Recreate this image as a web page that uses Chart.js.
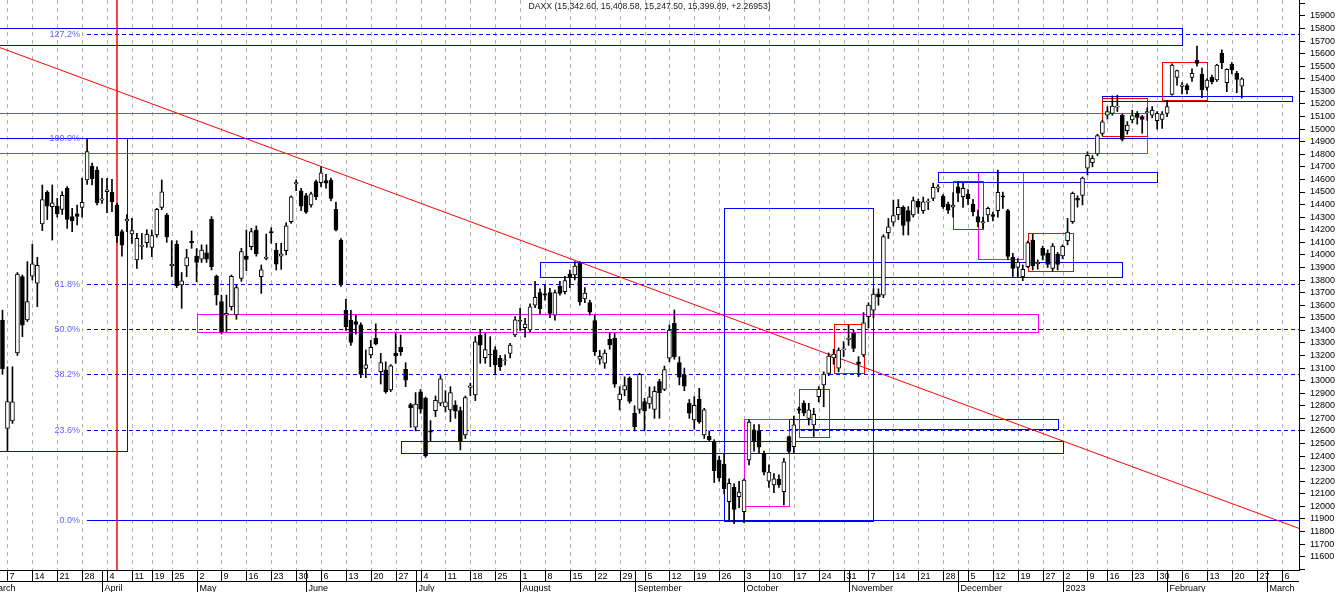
<!DOCTYPE html>
<html>
<head>
<meta charset="utf-8">
<title>DAXX</title>
<script src="https://cdn.jsdelivr.net/npm/chart.js@4.4.1/dist/chart.umd.min.js"></script>
<style>
    html, body { margin: 0; padding: 0; background: #fff; }
    #wrap { position: relative; width: 1336px; height: 592px; }
</style>
</head>
<body>
<div id="wrap"><canvas id="daxChart"></canvas></div>
<script>
// trading calendar of the x axis (one slot per session, future sessions left empty)
const firstDay = '2022-03-04';
const slotCount = 261;
const closedDays = ['2022-04-15', '2022-04-18', '2022-12-26', '2023-01-13'];
const monthNames = ['January', 'February', 'March', 'April', 'May', 'June', 'July',
    'August', 'September', 'October', 'November', 'December'];

// daily candles, one line per week
const opens = [13480,
    12620, 12680, 13220, 13827, 13482,
    13830, 13775, 14246, 14500, 14383,
    14389, 14362, 14529, 14304, 14326,
    14378, 14596, 14707, 14675, 14436,
    14503, 14498, 14397, 14185, 14270,
    14166, 13960, 14068, 14097,
    14060, 14158, 14378, 14317,
    13915, 14084, 13761, 13912, 14108,
    13991, 13965, 14017, 14283, 13832,
    13628, 13520, 13589, 13522, 13813,
    13991, 14065, 14198, 13827, 13972,
    14186, 14039, 13990, 14033, 14264,
    14565, 14510, 14471, 14397, 14582,
    14574, 14590, 14595, 14362, 14118,
    13560, 13480, 13470, 13443, 13098,
    13204, 13337, 13072, 13085, 12926,
    13217, 13265, 13090, 12810, 12629,
    12910, 12860, 12600, 12761, 12820,
    12790, 12767, 12806, 12761, 12568,
    12945, 12886, 13363, 13183, 13210,
    13244, 13178, 13160, 13217, 13363,
    13470, 13421, 13403, 13600, 13700,
    13690, 13700, 13520, 13750, 13707,
    13850, 13840, 13932, 13650, 13620,
    13477, 13170, 13138, 13329, 13337,
    12846, 12926, 13019, 12740, 12772,
    12833, 12814, 12772, 12992, 12931,
    13178, 13456, 13143, 13045, 12820,
    12687, 12851, 12568, 12560, 12515,
    12369, 12337, 12038, 12152, 12077,
    11958, 12369, 12608, 12602, 12422,
    12200, 12170, 12215, 12117, 12555,
    12475, 12775, 12820, 12700, 12647,
    12873, 12966, 13058, 13180, 13100,
    13245, 13328, 13376, 13150, 13204,
    13509, 13560, 13690, 13680, 14177,
    14260, 14320, 14378, 14352, 14317,
    14425, 14352, 14420, 14450, 14530,
    14468, 14405, 14380, 14542, 14463,
    14484, 14405, 14304, 14255, 14317,
    14320, 14352, 14470, 14352, 13980,
    13900, 13827, 13906, 14118, 13930,
    14052, 14012, 13893, 14004,
    13991, 14113, 14264, 14450, 14473,
    14690, 14733, 14802, 14966,
    15112, 15126, 15175, 15112, 14988,
    15073, 15126, 15099, 15130, 15112,
    15067, 15078, 15126, 15277, 15412,
    15340, 15346, 15412, 15550, 15438,
    15332, 15412, 15391, 15603, 15370,
    15515, 15444, 15342.60];

const highs = [13560,
    13110, 13110, 13860, 13840, 13946,
    14084, 13981, 14556, 14510, 14556,
    14450, 14503, 14543, 14370, 14397,
    14610, 14925, 14730, 14700, 14609,
    14609, 14600, 14410, 14200, 14320,
    14291, 14171, 14171, 14200,
    14198, 14370, 14596, 14330,
    14113, 14113, 13860, 14044, 14190,
    14050, 14080, 14080, 14304, 13840,
    13680, 13680, 13840, 13760, 14052,
    14198, 14211, 14230, 13920, 14166,
    14216, 14092, 14092, 14256, 14470,
    14595, 14530, 14490, 14500, 14595,
    14701, 14640, 14610, 14420, 14130,
    13647, 13560, 13520, 13460, 13244,
    13320, 13451, 13217, 13150, 13128,
    13376, 13363, 13143, 12820, 12905,
    12930, 12870, 12682, 12878, 13040,
    12920, 12952, 12840, 12790, 12878,
    12980, 13350, 13403, 13376, 13350,
    13270, 13200, 13205, 13297, 13509,
    13575, 13496, 13610, 13790, 13730,
    13760, 13735, 13720, 13790, 13830,
    13880, 13946, 13946, 13740, 13640,
    13520, 13240, 13244, 13380, 13376,
    12952, 13030, 13030, 12800, 13058,
    12860, 12950, 12952, 13010, 13116,
    13443, 13562, 13190, 13100, 12850,
    12873, 12939, 12780, 12600, 12530,
    12400, 12420, 12220, 12180, 12200,
    12220, 12690, 12650, 12650, 12440,
    12330, 12260, 12250, 12382, 12560,
    12719, 12790, 12840, 12820, 12780,
    12952, 13070, 13220, 13250, 13260,
    13310, 13440, 13400, 13191, 13541,
    13620, 13730, 13730, 14160, 14290,
    14436, 14440, 14390, 14384, 14460,
    14445, 14460, 14445, 14570, 14560,
    14480, 14420, 14495, 14582, 14574,
    14520, 14442, 14357, 14300, 14380,
    14340, 14675, 14500, 14362, 14012,
    13970, 13920, 14110, 14163, 13960,
    14070, 14040, 14090, 14020,
    14080, 14290, 14500, 14470, 14620,
    14820, 14790, 14960, 15070,
    15179, 15264, 15270, 15120, 15060,
    15150, 15140, 15110, 15170, 15180,
    15140, 15140, 15230, 15520, 15470,
    15370, 15360, 15480, 15661, 15485,
    15400, 15430, 15515, 15630, 15480,
    15530, 15460, 15408.58];

const lows = [13050,
    12440, 12660, 13200, 13350, 13470,
    13800, 13588, 14193, 14280, 14118,
    14300, 14322, 14211, 14185, 14238,
    14300, 14560, 14556, 14397, 14410,
    14336, 14344, 14100, 13990, 14185,
    14092, 13893, 13965, 14060,
    13986, 14140, 14360, 14100,
    13827, 13740, 13575, 13827, 14052,
    13787, 13940, 13940, 13880, 13601,
    13370, 13390, 13560, 13488, 13790,
    13874, 14040, 13990, 13694, 13960,
    14092, 13880, 13885, 14000, 14250,
    14510, 14352, 14330, 14380, 14440,
    14542, 14530, 14430, 14190, 13750,
    13400, 13280, 13370, 13024, 13024,
    13180, 13284, 12973, 12900, 12912,
    13138, 13200, 12952, 12629, 12600,
    12740, 12390, 12523, 12714, 12800,
    12750, 12674, 12700, 12449, 12540,
    12880, 12841, 13138, 13138, 13111,
    13045, 13080, 13125, 13180, 13350,
    13400, 13345, 13390, 13580, 13530,
    13640, 13500, 13480, 13680, 13690,
    13740, 13800, 13600, 13620, 13520,
    13200, 13130, 13098, 13250, 12947,
    12767, 12880, 12820, 12600, 12740,
    12600, 12780, 12700, 12700, 12920,
    13150, 13170, 12966, 12920, 12700,
    12613, 12660, 12540, 12520, 12190,
    12200, 12100, 11890, 11862, 11990,
    11870, 12330, 12440, 12427, 12250,
    12150, 12109, 12150, 12011, 12420,
    12422, 12740, 12720, 12647, 12555,
    12830, 12793, 13040, 13130, 13070,
    13190, 13280, 13230, 13032, 13190,
    13420, 13500, 13600, 13660, 14130,
    14230, 14280, 14158, 14158, 14300,
    14330, 14330, 14360, 14430, 14500,
    14370, 14330, 14300, 14423, 14378,
    14400, 14310, 14224, 14210, 14265,
    14270, 14300, 14370, 13960, 13827,
    13820, 13795, 13900, 13880, 13887,
    13960, 13900, 13870, 13880,
    13970, 14080, 14250, 14380, 14397,
    14635, 14700, 14790, 14950,
    15080, 15110, 15140, 14906, 14960,
    15050, 15040, 14967, 15070, 15090,
    15000, 15006, 15100, 15270, 15350,
    15280, 15280, 15380, 15500, 15250,
    15310, 15360, 15380, 15480, 15298,
    15440, 15290, 15247.50];

const closes = [13094,
    12834, 12831, 13848, 13442, 13628,
    13929, 13917, 14440, 14388, 14413,
    14326, 14473, 14283, 14273, 14306,
    14417, 14821, 14606, 14415, 14446,
    14518, 14424, 14152, 14078, 14284,
    14193, 14132, 14076, 14163,
    14153, 14362, 14502, 14142,
    13924, 13756, 13793, 13979, 14098,
    13940, 14039, 13965, 13906, 13681,
    13390, 13535, 13829, 13739, 14027,
    13964, 14186, 14008, 13882, 13982,
    14175, 13927, 14008, 14232, 14462,
    14575, 14388, 14340, 14485, 14460,
    14653, 14570, 14450, 14199, 13762,
    13427, 13304, 13447, 13050, 13126,
    13265, 13292, 13143, 12912, 13118,
    13196, 13231, 13003, 12784, 12813,
    12773, 12401, 12590, 12843, 13015,
    12832, 12905, 12757, 12519, 12865,
    12959, 13308, 13282, 13247, 13204,
    13125, 13111, 13166, 13282, 13484,
    13479, 13449, 13587, 13662, 13573,
    13680, 13535, 13700, 13694, 13795,
    13816, 13910, 13626, 13697, 13544,
    13230, 13194, 13220, 13284, 12971,
    12893, 12961, 12834, 12631, 13050,
    12761, 12871, 12915, 12904, 13088,
    13402, 13189, 13028, 12956, 12741,
    12803, 12671, 12767, 12531, 12284,
    12227, 12140, 12184, 11975, 12114,
    12209, 12671, 12517, 12471, 12273,
    12272, 12220, 12172, 12355, 12438,
    12649, 12765, 12741, 12767, 12731,
    12931, 13053, 13195, 13211, 13243,
    13253, 13338, 13257, 13130, 13460,
    13600, 13688, 13666, 14146, 14224,
    14313, 14378, 14234, 14266, 14431,
    14380, 14422, 14428, 14537, 14541,
    14383, 14355, 14397, 14490, 14529,
    14447, 14343, 14261, 14264, 14370,
    14306, 14497, 14460, 13987, 13893,
    13942, 13885, 14097, 13914, 13941,
    13995, 13925, 14071, 13924,
    14069, 14181, 14490, 14436, 14610,
    14792, 14768, 14948, 15058,
    15139, 15184, 15184, 14919, 15033,
    15107, 15094, 15078, 15139, 15152,
    15126, 15120, 15179, 15510, 15465,
    15351, 15311, 15444, 15523, 15311,
    15391, 15378, 15510, 15529, 15476,
    15470, 15396, 15399.89];

// drawn analysis: fibonacci retracement, trend line, marker, zones [from, to, low, high]
const fibLow = 11890;
const fibHigh = 14930;
const fibStart = '2022-03-29';
const fibLevels = [1.272, 1.0, 0.618, 0.5, 0.382, 0.236, 0.0];
const trendPoints = [['2022-03-04', 15641], ['2023-03-09', 11832]];
const markerDay = '2022-04-06';
const blueBoxes = [
    [null, '2023-02-06', 15669, 15802],
    ['2023-01-12', '2023-03-08', 15222, 15266],
    ['2022-11-25', '2023-01-30', 14577, 14657],
    ['2022-08-05', '2023-01-19', 13822, 13941],
    ['2022-09-27', '2022-11-08', 11886, 14371],
    ['2022-06-28', '2023-01-02', 12422, 12518],
    ['2022-10-14', '2022-12-30', 12613, 12695],
    [null, '2022-04-08', 12440, 14930],
];
const redBoxes = [
    ['2023-01-31', '2023-02-13', 15230, 15532],
    ['2023-01-12', '2023-01-26', 14943, 15245],
    ['2022-11-30', '2022-12-08', 14203, 14585],
    ['2022-12-21', '2023-01-04', 13870, 14172],
    ['2022-10-18', '2022-10-26', 12550, 12934],
    ['2022-10-27', '2022-11-04', 13063, 13448],
];
const magentaBoxes = [
    [null, '2023-01-26', 14808, 15126],
    ['2022-12-07', '2022-12-20', 13967, 14657],
    ['2022-05-02', '2022-12-23', 13385, 13528],
    ['2022-10-03', '2022-10-14', 12001, 12693],
];
const titleText = 'DAXX (15,342.60, 15,408.58, 15,247.50, 15,399.89, +2.26953)';

//
const FONT = "'Liberation Sans', Arial, sans-serif";
const iso = (d) => d.toISOString().slice(0, 10);
const dates = [];
const cursor = new Date(firstDay + 'T00:00:00Z');
while (dates.length < slotCount) {
    const dow = cursor.getUTCDay();
    if (dow !== 0 && dow !== 6 && !closedDays.includes(iso(cursor))) dates.push(iso(cursor));
    cursor.setUTCDate(cursor.getUTCDate() + 1);
}
const asDate = (s) => new Date(s + 'T00:00:00Z');
const isWeekStart = (i) => i > 0 && asDate(dates[i]).getUTCDay() <= asDate(dates[i - 1]).getUTCDay();
const isMonthStart = (i) => i > 0 && dates[i].slice(5, 7) !== dates[i - 1].slice(5, 7);
const monthLabel = (s) => {
    const d = asDate(s);
    return d.getUTCMonth() === 0 ? String(d.getUTCFullYear()) : monthNames[d.getUTCMonth()];
};
// sessions between the 1st of the first month and the first slot
const leadSessions = (() => {
    let n = 0;
    const d = asDate(firstDay.slice(0, 8) + '01');
    while (iso(d) < firstDay) {
        if (d.getUTCDay() !== 0 && d.getUTCDay() !== 6) n++;
        d.setUTCDate(d.getUTCDate() + 1);
    }
    return n;
})();

const crisp = (v) => Math.round(v) + 0.5;
const xOf = (scale, day) => scale.getPixelForValue(dates.indexOf(day));

//
const overlayPlugin = {
    id: 'overlay',
    beforeDatasetsDraw(chart) {
        const { ctx, chartArea: { left, right, top, bottom }, scales: { x, y } } = chart;
        ctx.save();
        ctx.beginPath();
        ctx.rect(left, top, right - left, bottom - top);
        ctx.clip();
        ctx.lineWidth = 1;

        // weekly dashed grid
        ctx.strokeStyle = '#b4b4b4';
        ctx.setLineDash([4, 4]);
        ctx.beginPath();
        dates.forEach((d, i) => {
            if (!isWeekStart(i)) return;
            const px = crisp(x.getPixelForValue(i));
            ctx.moveTo(px, top);
            ctx.lineTo(px, bottom);
        });
        ctx.stroke();
        ctx.setLineDash([]);

        // zones
        const drawBoxes = (list, color) => {
            ctx.strokeStyle = color;
            list.forEach(([from, to, lo, hi]) => {
                const x0 = from ? crisp(xOf(x, from)) : left - 2.5;
                const x1 = crisp(xOf(x, to));
                const y0 = crisp(y.getPixelForValue(hi));
                const y1 = crisp(y.getPixelForValue(lo));
                ctx.strokeRect(x0, y0, x1 - x0, y1 - y0);
            });
        };
        drawBoxes(magentaBoxes, '#ff00ff');
        drawBoxes(blueBoxes, '#0000ff');
        drawBoxes(redBoxes, '#ff0000');

        // fibonacci levels
        const fx = xOf(x, fibStart);
        ctx.font = `9px ${FONT}`;
        ctx.textAlign = 'right';
        ctx.textBaseline = 'middle';
        fibLevels.forEach((lvl) => {
            const py = crisp(y.getPixelForValue(fibLow + lvl * (fibHigh - fibLow)));
            const solid = lvl === 0 || lvl === 1;
            ctx.strokeStyle = '#0000ff';
            ctx.setLineDash(solid ? [] : [4, 3]);
            ctx.beginPath();
            ctx.moveTo(lvl === 1 ? left : Math.round(fx), py);
            ctx.lineTo(right, py);
            ctx.stroke();
            ctx.fillStyle = '#6464ff';
            ctx.fillText((lvl * 100).toFixed(1) + '%', fx - 7, py);
        });
        ctx.setLineDash([]);

        // trend line, extended to both edges
        const [[d0, v0], [d1, v1]] = trendPoints;
        const xa = xOf(x, d0), xb = xOf(x, d1);
        const ya = y.getPixelForValue(v0), yb = y.getPixelForValue(v1);
        const k = (yb - ya) / (xb - xa);
        ctx.strokeStyle = '#ff0000';
        ctx.beginPath();
        ctx.moveTo(left, ya + (left - xa) * k);
        ctx.lineTo(right, ya + (right - xa) * k);
        ctx.stroke();

        // vertical marker
        const mx = Math.round(xOf(x, markerDay));
        ctx.lineWidth = 1.5;
        ctx.beginPath();
        ctx.moveTo(mx, top);
        ctx.lineTo(mx, bottom);
        ctx.stroke();
        ctx.restore();
    },
    afterDraw(chart) {
        const { ctx, width, height, chartArea: { left, right, top, bottom }, scales: { x } } = chart;
        ctx.save();

        // title
        ctx.font = `8.7px ${FONT}`;
        ctx.fillStyle = '#1c1c1c';
        ctx.textAlign = 'center';
        ctx.textBaseline = 'middle';
        ctx.fillText(titleText, (left + right) / 2, top + 7);

        // two-row date axis
        ctx.beginPath();
        ctx.rect(0, bottom, right + 1, height - bottom);
        ctx.clip();
        const rowLine = bottom + 11.5;
        ctx.strokeStyle = '#000';
        ctx.lineWidth = 1;
        ctx.beginPath();
        ctx.moveTo(0, crisp(bottom));
        ctx.lineTo(right, crisp(bottom));
        ctx.moveTo(0, rowLine);
        ctx.lineTo(right, rowLine);
        ctx.stroke();

        ctx.font = `9px ${FONT}`;
        ctx.fillStyle = '#000';
        ctx.textAlign = 'left';
        ctx.textBaseline = 'alphabetic';
        dates.forEach((d, i) => {
            const week = isWeekStart(i), month = isMonthStart(i);
            if (!week && !month) return;
            const px = crisp(x.getPixelForValue(i));
            ctx.beginPath();
            ctx.moveTo(px, bottom);
            ctx.lineTo(px, rowLine);
            if (month) {
                ctx.moveTo(px, rowLine);
                ctx.lineTo(px, height);
            }
            ctx.stroke();
            if (week) ctx.fillText(String(+d.slice(8, 10)), px + 2, bottom + 9);
            if (month) ctx.fillText(monthLabel(d), px + 2, height - 1);
        });
        // month that began before the first slot
        const mx = crisp(x.getPixelForValue(-leadSessions));
        ctx.beginPath();
        ctx.moveTo(mx, rowLine);
        ctx.lineTo(mx, height);
        ctx.stroke();
        ctx.fillText(monthLabel(firstDay), mx + 2, height - 1);
        ctx.restore();
    },
};

//
Chart.defaults.font.family = FONT;
Chart.defaults.font.size = 9;
Chart.defaults.color = '#000';

const bodies = dates.map((d, i) => (i < opens.length ? [Math.min(opens[i], closes[i]), Math.max(opens[i], closes[i])] : null));
const wicks = dates.map((d, i) => (i < opens.length ? [lows[i], highs[i]] : null));
const bodyColors = dates.map((d, i) => (i < opens.length && closes[i] >= opens[i] ? '#ffffff' : '#000000'));

new Chart(document.getElementById('daxChart'), {
    type: 'bar',
    data: {
        labels: dates,
        datasets: [
            {
                label: 'body',
                data: bodies,
                backgroundColor: bodyColors,
                borderColor: '#000000',
                borderWidth: 1,
                borderSkipped: false,
                barThickness: 4,
                grouped: false,
                order: 0,
            },
            {
                label: 'wick',
                data: wicks,
                backgroundColor: '#000000',
                borderWidth: 0,
                barThickness: 1,
                grouped: false,
                order: 1,
            },
        ],
    },
    options: {
        responsive: true,
        maintainAspectRatio: false,
        animation: false,
        events: [],
        layout: { padding: { left: 0, right: 0, top: 0, bottom: 22 } },
        plugins: {
            legend: { display: false },
            tooltip: { enabled: false },
        },
        scales: {
            x: { display: false, offset: true },
            y: {
                position: 'right',
                min: 11494,
                max: 16027,
                afterFit(scale) {
                    scale.width = 37;
                    scale.paddingTop = 0;
                    scale.paddingBottom = 0;
                },
                ticks: {
                    stepSize: 100,
                    includeBounds: false,
                    autoSkip: false,
                    maxTicksLimit: 100,
                    padding: 5,
                    color: '#000',
                    font: { size: 9 },
                    callback: (v) => (v >= 11600 && v <= 15900 ? String(v) : ''),
                },
                grid: { drawOnChartArea: false, drawTicks: true, tickLength: 6, color: '#000' },
                border: { display: true, color: '#000' },
            },
        },
    },
    plugins: [overlayPlugin],
});
</script>
</body>
</html>
